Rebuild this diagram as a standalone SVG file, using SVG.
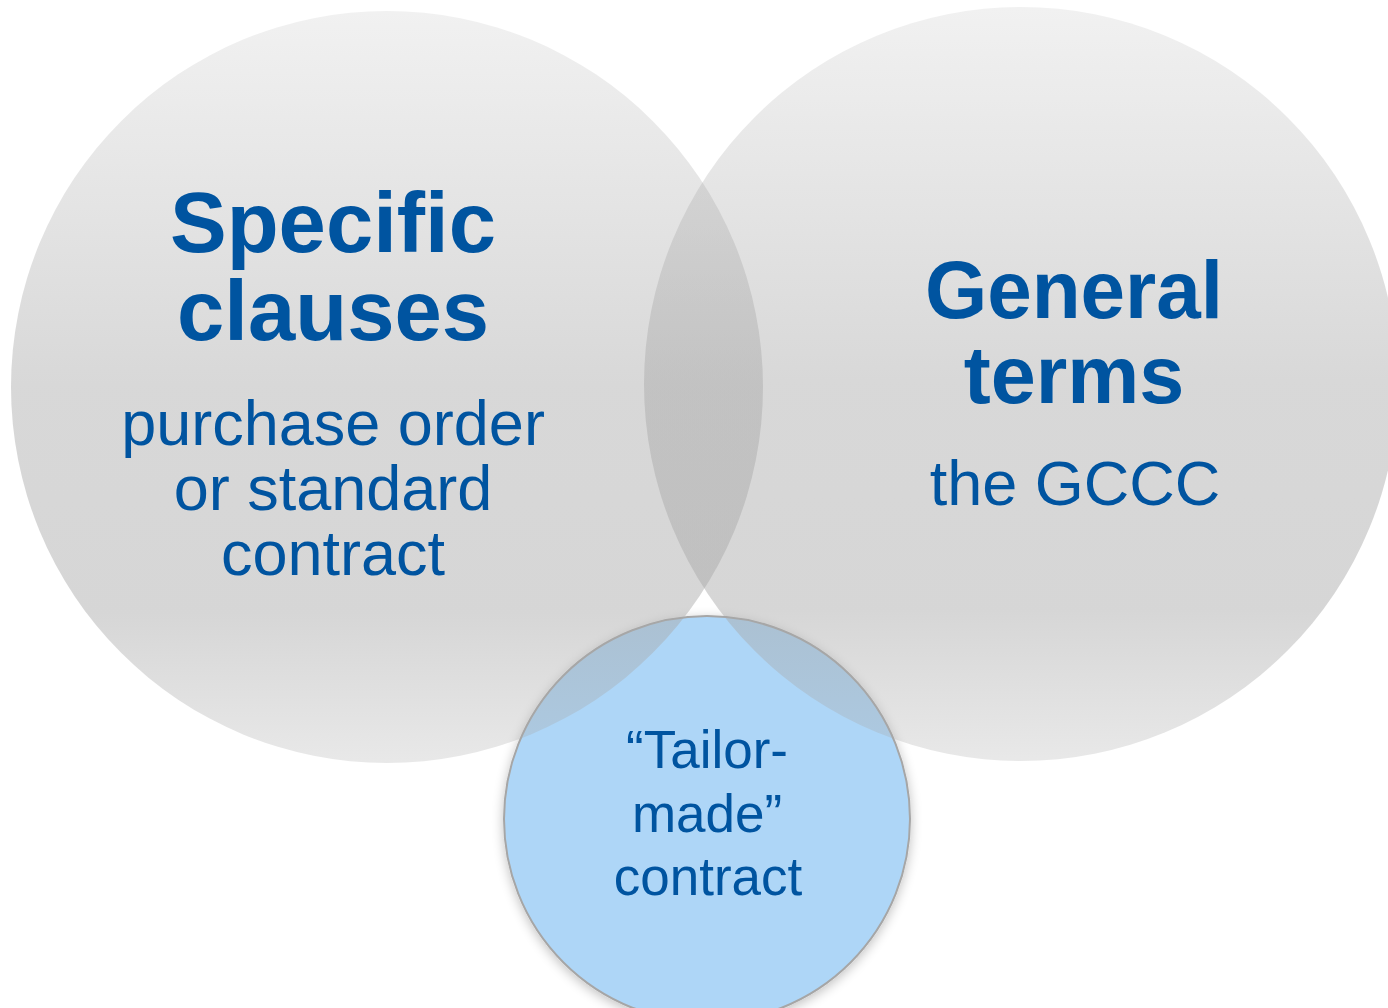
<svg xmlns="http://www.w3.org/2000/svg" width="1388" height="1008" viewBox="0 0 1388 1008">
  <style>
    .t { font-family: "Liberation Sans", Arial, sans-serif; fill: #0054a0; text-anchor: middle; }
    .b { font-weight: bold; }
    .gray { fill: url(#grayGrad); }
  </style>
  <defs>
    <linearGradient id="grayGrad" x1="0" y1="0" x2="0" y2="1">
      <stop offset="0" stop-color="#a8a8a8" stop-opacity="0.16"/>
      <stop offset="0.5" stop-color="#a8a8a8" stop-opacity="0.45"/>
      <stop offset="0.8" stop-color="#a8a8a8" stop-opacity="0.47"/>
      <stop offset="1" stop-color="#a8a8a8" stop-opacity="0.26"/>
    </linearGradient>
    <filter id="shadow" x="-20%" y="-20%" width="140%" height="140%">
      <feGaussianBlur in="SourceAlpha" stdDeviation="6"/>
      <feOffset dx="0" dy="3" result="b"/>
      <feComponentTransfer><feFuncA type="linear" slope="0.25"/></feComponentTransfer>
      <feMerge><feMergeNode/><feMergeNode in="SourceGraphic"/></feMerge>
    </filter>
  </defs>
  <rect width="1388" height="1008" fill="#ffffff"/>
  <g id="connectors"/>
  <g id="node-tailor">
    <circle cx="707" cy="819" r="203" fill="#aed6f7" stroke="#a6a6a6" stroke-width="2" filter="url(#shadow)"/>
  </g>
  <g id="node-specific">
    <circle class="gray" cx="387" cy="387" r="376"/>
  </g>
  <g id="node-general">
    <circle class="gray" cx="1021" cy="384" r="377"/>
  </g>
  <g id="labels-specific">
    <text class="t b" x="333" y="252" font-size="85">Specific</text>
    <text class="t b" x="333" y="340" font-size="85">clauses</text>
    <text class="t" x="333" y="445" font-size="63">purchase order</text>
    <text class="t" x="333" y="510" font-size="63">or standard</text>
    <text class="t" x="333" y="575" font-size="63">contract</text>
  </g>
  <g id="labels-general">
    <text class="t b" x="1074" y="318" font-size="81" textLength="298" lengthAdjust="spacingAndGlyphs">General</text>
    <text class="t b" x="1074" y="403" font-size="81">terms</text>
    <text class="t" x="1075" y="505" font-size="63">the GCCC</text>
  </g>
  <g id="labels-tailor">
    <text class="t" x="707" y="768" font-size="53">“Tailor-</text>
    <text class="t" x="707" y="832" font-size="53">made”</text>
    <text class="t" x="708" y="895" font-size="53">contract</text>
  </g>
</svg>
